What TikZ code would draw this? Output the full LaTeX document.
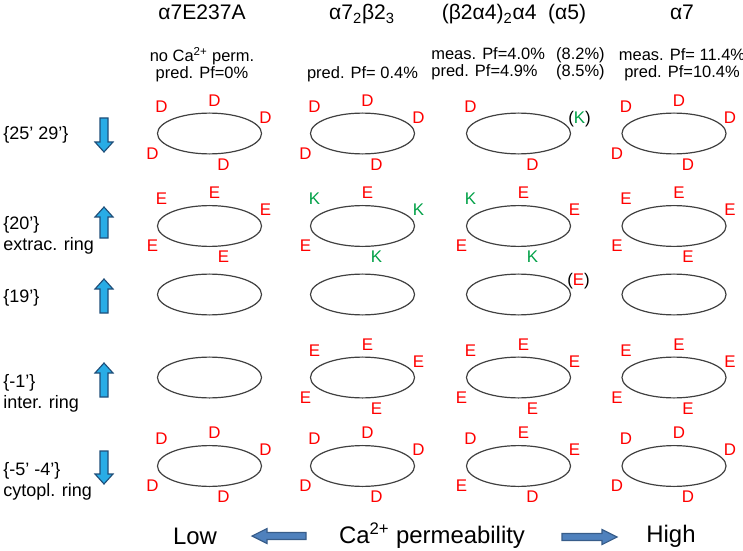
\documentclass[tikz,border=0pt]{standalone}
\usepackage{fontspec}
\setmainfont{Liberation Sans}
\usetikzlibrary{shapes.geometric}

\definecolor{ringgray}{RGB}{64,64,64}
\definecolor{siteK}{RGB}{0,160,70}
\definecolor{dirfill}{RGB}{40,172,230}
\definecolor{dirline}{RGB}{31,78,121}
\definecolor{permfill}{RGB}{79,129,189}
\definecolor{permline}{RGB}{56,93,138}

\newcommand{\sK}{\textcolor{siteK}{K}}

% residues round one ring: #1 ring node, #2 list of position/letter
\newcommand{\sites}[2]{%
  \foreach \s/\l in {#2}
    \node[site, site \s] (#1-\s) at (#1) {\l};}

% vertical block arrow: #1 x, #2 tip y, #3 tail y, #4 = 1 up / -1 down
\newcommand{\vblock}[4]{%
  \draw[dirarrow] (#1,#2) -- (#1+9,#2+10*#4) -- (#1+4,#2+10*#4) -- (#1+4,#3)
    -- (#1-4,#3) -- (#1-4,#2+10*#4) -- (#1-9,#2+10*#4) -- cycle;}

% horizontal block arrow: #1 tip x, #2 tail x, #3 y, #4 = 1 left / -1 right
\newcommand{\hblock}[4]{%
  \draw[permarrow] (#1,#3) -- (#1+15*#4,#3-7.5) -- (#1+15*#4,#3-3.5) -- (#2,#3-3.5)
    -- (#2,#3+3.5) -- (#1+15*#4,#3+3.5) -- (#1+15*#4,#3+7.5) -- cycle;}

\begin{document}
\begin{tikzpicture}[x=0.025cm, y=-0.025cm,
    ring/.style={ellipse, draw=ringgray, line width=0.85pt, minimum width=2.6cm,
      minimum height=1.02cm, inner sep=0},
    site/.style={font=\fontsize{12}{14}\selectfont, text=red, inner sep=0},
    site tl/.style={shift={(-48,-27)}},
    site t/.style={shift={(5,-33)}},
    site r/.style={shift={(56,-16)}},
    site ll/.style={shift={(-57,20)}},
    site b/.style={shift={(14,31)}},
    title/.style={font=\fontsize{15}{18}\selectfont, anchor=base, inner sep=0},
    note/.style={font=\fontsize{11.7}{12.1}\selectfont, align=center, inner sep=0},
    rowlab/.style={font=\fontsize{12.8}{15}\selectfont, align=left, anchor=west, inner sep=0},
    axis/.style={font=\fontsize{17}{20}\selectfont, inner sep=0},
    dirarrow/.style={fill=dirfill, draw=dirline, line width=0.8pt},
    permarrow/.style={fill=permfill, draw=permline, line width=0.8pt}]
  \useasboundingbox (0,0) rectangle (743,551);

  % receptor types
  \node[title] (mut) at (202,20) {α7E237A};
  \node[title] (het) at (362,20) {α7\textsubscript{2}β2\textsubscript{3}};
  \node[title] (a4) at (514,20) {(β2α4)\textsubscript{2}α4~~(α5)};
  \node[title] (wt) at (682,20) {α7};

  \node[note] (mut-pf) at (202,65) {no Ca\textsuperscript{2+} perm.\\pred. Pf=0\%};
  \node[note] (het-pf) at (362.5,74) {pred. Pf= 0.4\%};
  \node[note] (a4-pf) at (518,65) {\begin{tabular}{@{}l@{\hspace{8pt}}l@{}}
      meas. Pf=4.0\% & (8.2\%)\\ pred. Pf=4.9\% & (8.5\%)\end{tabular}};
  \node[note] (wt-pf) at (682,65) {meas. Pf= 11.4\%\\pred. Pf=10.4\%};

  % rings
  \foreach \col/\x in {1/209.5,2/362.5,3/518.5,4/674}
    \foreach \row/\y in {1/133.5,2/226,3/294.5,4/377.5,5/466}
      \node[ring] (ring-\row-\col) at (\x,\y) {};

  % ring labels and directions
  \node[rowlab] (lab-1) at (3,135) {\{25’ 29’\}};
  \node[rowlab] (lab-2) at (3,235.5) {\{20’\}\\extrac. ring};
  \node[rowlab] (lab-3) at (3,298) {\{19’\}};
  \node[rowlab] (lab-4) at (3,393.5) {\{-1’\}\\inter. ring};
  \node[rowlab] (lab-5) at (3,481.5) {\{-5’ -4’\}\\cytopl. ring};

  \vblock{104}{152}{118}{-1}
  \vblock{104}{207}{238}{1}
  \vblock{104}{279}{313}{1}
  \vblock{104}{363}{397}{1}
  \vblock{104}{484}{451}{-1}

  % {25' 29'}
  \sites{ring-1-1}{tl/D,t/D,r/D,ll/D,b/D}
  \sites{ring-1-2}{tl/D,t/D,r/D,ll/D,b/D}
  \sites{ring-1-3}{tl/D,b/D}
  \node[site, text=black] (ring-1-3-r) at ([shift={(61,-14)}]ring-1-3.center) {(\sK)};
  \sites{ring-1-4}{tl/D,t/D,r/D,ll/D,b/D}

  % {20'}
  \sites{ring-2-1}{tl/E,t/E,r/E,ll/E,b/E}
  \sites{ring-2-2}{tl/\sK,t/E,r/\sK,ll/E,b/\sK}
  \sites{ring-2-3}{tl/\sK,t/E,r/E,ll/E,b/\sK}
  \sites{ring-2-4}{tl/E,t/E,r/E,ll/E,b/E}

  % {19'}
  \node[site, text=black] (ring-3-3-r) at ([shift={(60,-13)}]ring-3-3.center) {(\textcolor{red}{E})};

  % {-1'}
  \sites{ring-4-2}{tl/E,t/E,r/E,ll/E,b/E}
  \sites{ring-4-3}{tl/E,t/E,r/E,ll/E,b/E}
  \sites{ring-4-4}{tl/E,t/E,r/E,ll/E,b/E}

  % {-5' -4'}
  \sites{ring-5-1}{tl/D,t/D,r/D,ll/D,b/D}
  \sites{ring-5-2}{tl/D,t/D,r/D,ll/D,b/D}
  \sites{ring-5-3}{tl/D,t/E,r/E,ll/E,b/D}
  \sites{ring-5-4}{tl/D,t/D,r/D,ll/D,b/D}

  % permeability axis
  \node[axis] (low) at (195,536) {Low};
  \node[axis] (perm) at (432,536) {Ca\textsuperscript{2+} permeability};
  \node[axis] (high) at (671,536) {High};
  \hblock{252}{306}{536}{1}
  \hblock{617}{562}{537}{-1}
\end{tikzpicture}
\end{document}
